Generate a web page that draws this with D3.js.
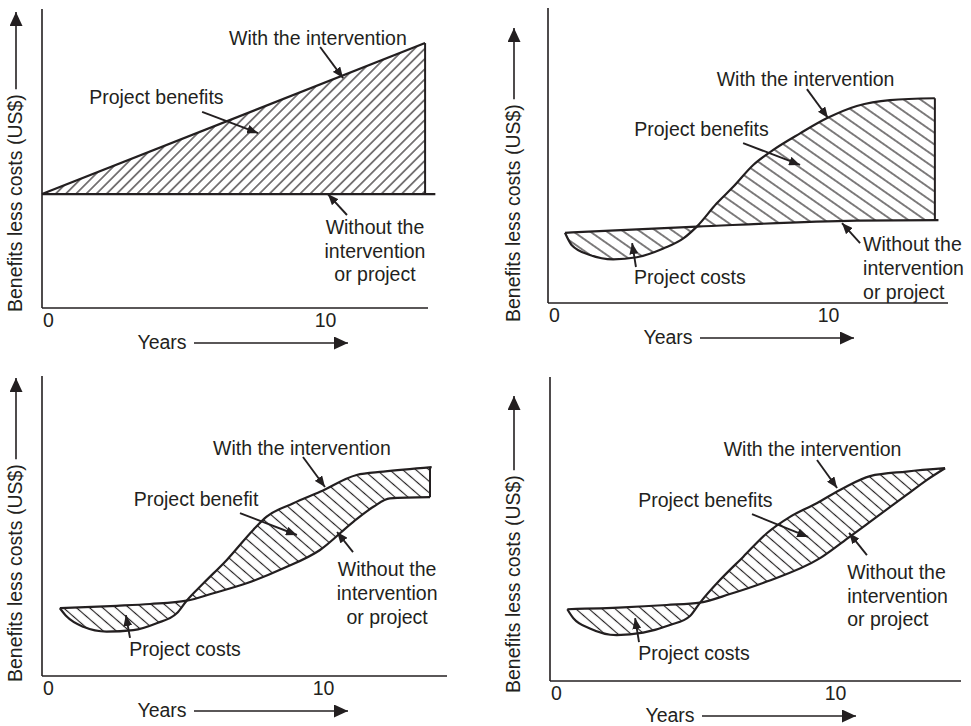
<!DOCTYPE html>
<html><head><meta charset="utf-8">
<script src="https://cdn.jsdelivr.net/npm/d3@7"></script>
<style>
html,body{margin:0;padding:0;background:#fff;}
svg{display:block;}
text{font-family:"Liberation Sans", Arial, Helvetica, sans-serif; fill:#231f20; font-size:19.5px;}
</style></head><body>
<svg id="chart" width="971" height="726"></svg>
<script>
// ---------------- data ----------------
const xTicks = [0, 10];
const xTickLabels = ["0", "10"];
const xAxisTitle = "Years";
const yAxisTitle = "Benefits less costs (US$)";
const withLabel = "With the intervention";
const withoutLabel = ["Without the", "intervention", "or project"];
const costsLabel = "Project costs";
const benefitLabels = ["Project benefits", "Project benefits", "Project benefit", "Project benefits"];

// Panel 1 (top-left)
const p1WithYears = [0, 13.83];
const p1WithValues = [38.1, 88.6];
const p1WithoutYears = [0, 14.2];
const p1WithoutValues = [38.1, 38.1];

// Panel 2 (top-right)
const p2WithYears = [0.62, 0.86, 1.53, 2.38, 3.24, 4.21, 4.94, 5.43, 6.16, 6.76, 7.49, 8.22, 9.2, 10.17, 11.27, 12.48, 14.12];
const p2WithValues = [23.8, 19.7, 16.3, 14.8, 15.5, 18.5, 21.9, 25.9, 33.8, 39.4, 46.8, 51.9, 57.5, 62.6, 66.8, 68.8, 69.4];
const p2WithoutYears = [0.62, 5.43, 11.27, 14.25];
const p2WithoutValues = [23.8, 25.9, 27.9, 28.1];

// Panel 3 (bottom-left)
const p3WithYears = [0.65, 0.90, 1.50, 2.35, 3.32, 4.17, 4.90, 5.26, 5.87, 6.72, 7.68, 8.17, 9.14, 10.11, 11.44, 12.41, 14.17];
const p3WithValues = [22.6, 19.8, 16.4, 14.8, 15.3, 17.6, 20.9, 25.1, 30.9, 38.7, 48.7, 53.1, 57.6, 61.4, 67.0, 68.1, 69.6];
const p3WithoutYears = [0.65, 2.72, 3.93, 5.26, 6.23, 7.44, 8.78, 10.11, 11.32, 12.05, 12.65, 14.11];
const p3WithoutValues = [22.6, 23.4, 24.0, 25.1, 27.6, 30.9, 35.9, 42.0, 51.4, 56.4, 59.2, 59.6];

// Panel 4 (bottom-right)
const p4WithYears = [0.62, 0.84, 1.43, 2.39, 3.34, 4.30, 5.02, 5.38, 6.09, 6.93, 7.77, 8.60, 9.56, 10.51, 11.47, 12.78, 14.16];
const p4WithValues = [23.6, 20.6, 17.3, 15.1, 15.9, 18.4, 21.4, 25.8, 33.2, 40.9, 48.6, 54.0, 58.5, 63.4, 67.4, 68.9, 70.0];
const p4WithoutYears = [0.62, 2.63, 4.18, 5.38, 6.45, 7.77, 9.68, 10.75, 11.71, 12.78, 13.50, 14.16];
const p4WithoutValues = [23.6, 24.2, 25.0, 25.8, 28.6, 32.7, 40.4, 47.5, 54.0, 61.2, 66.1, 70.0];

// ---------------- layout ----------------
const INK = "#231f20";
const panels = [
  { withYears: p1WithYears, withValues: p1WithValues, withoutYears: p1WithoutYears, withoutValues: p1WithoutValues,
    edge: 13.83, hatch: "h1",
    frame: { axisX: 42, top: 9, bottom: 308, right: 428, x10: 319 },
    yLab: { x: 15, bottom: 312, tip: 12 },
    ann: {
      withT: [9.96, 90.3], withA: [10.04, 87.3], withH: [10.87, 76.9],
      benT: [4.13, 70.6], benA: [5.78, 65.6], benH: [7.80, 58.5],
      woX: 12.02, woY: [27.1, 19.1, 11.4], woAnchor: "middle", woA: [11.01, 31.1], woH: [10.32, 38.1],
      costT: null
    } },
  { withYears: p2WithYears, withValues: p2WithValues, withoutYears: p2WithoutYears, withoutValues: p2WithoutValues,
    edge: 14.12, hatch: "h2",
    frame: { axisX: 548, top: 8, bottom: 303, right: 948, x10: 822 },
    yLab: { x: 513, bottom: 322, tip: 28 },
    ann: {
      withT: [9.40, 75.9], withA: [9.45, 72.5], withH: [10.22, 62.7],
      benT: [5.60, 59.0], benA: [7.12, 54.2], benH: [9.20, 46.8],
      woX: 11.50, woY: [20.0, 11.9, 3.7], woAnchor: "start", woA: [11.39, 20.3], woH: [10.73, 27.1],
      costT: [5.18, 8.8], costA: [3.21, 12.2], costH: [3.07, 20.3]
    } },
  { withYears: p3WithYears, withValues: p3WithValues, withoutYears: p3WithoutYears, withoutValues: p3WithoutValues,
    edge: 14.11, hatch: "h3",
    frame: { axisX: 42, top: 376, bottom: 676, right: 447, x10: 317 },
    yLab: { x: 15, bottom: 682, tip: 378 },
    ann: {
      withT: [9.45, 76.0], withA: [9.49, 73.0], withH: [10.29, 63.0],
      benT: [5.60, 59.0], benA: [7.20, 54.3], benH: [9.27, 47.0],
      woX: 12.55, woY: [35.7, 27.7, 19.7], woAnchor: "middle", woA: [11.31, 41.3], woH: [10.73, 48.0],
      costT: [5.20, 9.0], costA: [3.20, 12.7], costH: [3.05, 20.3]
    } },
  { withYears: p4WithYears, withValues: p4WithValues, withoutYears: p4WithoutYears, withoutValues: p4WithoutValues,
    edge: null, hatch: "h3",
    frame: { axisX: 550, top: 377, bottom: 681, right: 961, x10: 829 },
    yLab: { x: 513, bottom: 693, tip: 396 },
    ann: {
      withT: [9.41, 76.3], withA: [9.57, 72.7], withH: [10.29, 63.5],
      benT: [5.57, 59.5], benA: [7.24, 54.9], benH: [9.25, 47.4],
      woX: 10.65, woY: [35.9, 28.0, 20.4], woAnchor: "start", woA: [11.36, 41.4], woH: [10.72, 48.7],
      costT: [5.16, 9.2], costA: [3.19, 12.8], costH: [3.05, 20.7]
    } }
];

// ---------------- drawing ----------------
const svg = d3.select("#chart");
const defs = svg.append("defs");

function addPattern(id, angle, spacing) {
  const p = defs.append("pattern").attr("id", id)
    .attr("patternUnits", "userSpaceOnUse")
    .attr("width", spacing).attr("height", spacing)
    .attr("patternTransform", `rotate(${angle})`);
  p.append("line").attr("x1", spacing / 2).attr("x2", spacing / 2)
    .attr("y1", -1).attr("y2", spacing + 1)
    .attr("stroke", INK).attr("stroke-width", 1.15);
}
addPattern("h1", 45, 7.2);
addPattern("h2", -55, 9.6);
addPattern("h3", -49, 8.6);

function addMarker(id, len, wid) {
  defs.append("marker").attr("id", id)
    .attr("markerUnits", "userSpaceOnUse")
    .attr("markerWidth", len).attr("markerHeight", wid)
    .attr("refX", len).attr("refY", wid / 2)
    .attr("orient", "auto")
    .append("path").attr("d", `M0,0L${len},${wid / 2}L0,${wid}Z`).attr("fill", INK);
}
addMarker("arrowSmall", 11, 9);
addMarker("arrowAxis", 14, 13);

panels.forEach((P, i) => {
  const f = P.frame;
  const x = d3.scaleLinear().domain([0, 10]).range([f.axisX, f.x10]);
  const y = d3.scaleLinear().domain([0, 100]).range([f.bottom, f.top]);
  const g = svg.append("g");

  const withPts = P.withYears.map((yr, k) => [yr, P.withValues[k]]);
  const withoutPts = P.withoutYears.map((yr, k) => [yr, P.withoutValues[k]]);
  const line = d3.line().x(d => x(d[0])).y(d => y(d[1])).curve(d3.curveMonotoneX);

  // hatched region between the two curves (sampled outline of the two drawn curves)
  const clipId = "clip" + i;
  const clipRight = P.edge != null ? x(P.edge) : f.right;
  defs.append("clipPath").attr("id", clipId).append("rect")
    .attr("x", f.axisX).attr("y", f.top).attr("width", clipRight - f.axisX).attr("height", f.bottom - f.top);
  function sample(d) {
    const tmp = svg.append("path").attr("d", d);
    const n = tmp.node(), len = n.getTotalLength(), pts = [];
    const steps = Math.max(2, Math.ceil(len / 2));
    for (let k = 0; k <= steps; k++) { const p = n.getPointAtLength(len * k / steps); pts.push([p.x, p.y]); }
    tmp.remove();
    return pts;
  }
  const upper = sample(line(withPts));
  const lower = sample(line(withoutPts)).reverse();
  const region = upper.concat(lower);
  g.append("path").attr("d", "M" + region.map(p => p.join(",")).join("L") + "Z")
    .attr("fill", `url(#${P.hatch})`).attr("stroke", "none")
    .attr("clip-path", `url(#${clipId})`);

  // axes lines
  g.append("line").attr("x1", f.axisX).attr("x2", f.axisX).attr("y1", f.top).attr("y2", f.bottom)
    .attr("stroke", INK).attr("stroke-width", 1.6);
  g.append("line").attr("x1", f.axisX).attr("x2", f.right).attr("y1", f.bottom).attr("y2", f.bottom)
    .attr("stroke", INK).attr("stroke-width", 1.6);

  // x tick labels via d3 axis
  const ax = g.append("g").attr("transform", `translate(0,${f.bottom})`)
    .call(d3.axisBottom(x).tickValues(xTicks).tickFormat((d, k) => xTickLabels[k]).tickSize(0).tickPadding(5));
  ax.select(".domain").remove();
  ax.selectAll("text").attr("font-size", "19.5px").attr("font-family", "Liberation Sans, Arial, sans-serif")
    .attr("fill", INK).attr("dx", 6);

  // curves
  g.append("path").attr("d", line(withoutPts)).attr("fill", "none").attr("stroke", INK).attr("stroke-width", 2.2);
  g.append("path").attr("d", line(withPts)).attr("fill", "none").attr("stroke", INK).attr("stroke-width", 2.2);
  if (P.edge != null) {
    const last = withPts[withPts.length - 1];
    const wo = withoutPts;
    let vEdge = wo[wo.length - 1][1];
    for (let k = 0; k < wo.length - 1; k++) {
      if (P.edge >= wo[k][0] && P.edge <= wo[k + 1][0]) {
        const t = (P.edge - wo[k][0]) / (wo[k + 1][0] - wo[k][0]);
        vEdge = wo[k][1] + t * (wo[k + 1][1] - wo[k][1]);
      }
    }
    g.append("line").attr("x1", x(P.edge)).attr("x2", x(P.edge))
      .attr("y1", y(last[1])).attr("y2", y(vEdge))
      .attr("stroke", INK).attr("stroke-width", 2);
  }

  // x axis title + arrow
  g.append("text").attr("x", f.axisX + 120).attr("y", f.bottom + 34).attr("dy", "0.35em")
    .attr("text-anchor", "middle").text(xAxisTitle);
  g.append("line").attr("x1", f.axisX + 152).attr("x2", f.axisX + 306)
    .attr("y1", f.bottom + 35).attr("y2", f.bottom + 35)
    .attr("stroke", INK).attr("stroke-width", 1.6).attr("marker-end", "url(#arrowAxis)");

  // y axis title + arrow
  const yl = P.yLab;
  const yt = g.append("text").attr("x", yl.x).attr("y", yl.bottom).attr("dy", "0.35em")
    .attr("text-anchor", "start").attr("transform", `rotate(-90,${yl.x},${yl.bottom})`).text(yAxisTitle);
  const L = yt.node().getComputedTextLength();
  g.append("line").attr("x1", yl.x + 1).attr("x2", yl.x + 1)
    .attr("y1", yl.bottom - L - 5).attr("y2", yl.tip)
    .attr("stroke", INK).attr("stroke-width", 1.6).attr("marker-end", "url(#arrowAxis)");

  // annotations
  const A = P.ann;
  function arrow(a, h) {
    g.append("line").attr("x1", x(a[0])).attr("y1", y(a[1])).attr("x2", x(h[0])).attr("y2", y(h[1]))
      .attr("stroke", INK).attr("stroke-width", 1.9).attr("marker-end", "url(#arrowSmall)");
  }
  g.append("text").attr("x", x(A.withT[0])).attr("y", y(A.withT[1])).attr("dy", "0.35em")
    .attr("text-anchor", "middle").text(withLabel);
  arrow(A.withA, A.withH);
  g.append("text").attr("x", x(A.benT[0])).attr("y", y(A.benT[1])).attr("dy", "0.35em")
    .attr("text-anchor", "middle").text(benefitLabels[i]);
  arrow(A.benA, A.benH);
  withoutLabel.forEach((s, k) => {
    g.append("text").attr("x", x(A.woX)).attr("y", y(A.woY[k])).attr("dy", "0.35em")
      .attr("text-anchor", A.woAnchor).text(s);
  });
  arrow(A.woA, A.woH);
  if (A.costT) {
    g.append("text").attr("x", x(A.costT[0])).attr("y", y(A.costT[1])).attr("dy", "0.35em")
      .attr("text-anchor", "middle").text(costsLabel);
    arrow(A.costA, A.costH);
  }
});
</script>
</body></html>
